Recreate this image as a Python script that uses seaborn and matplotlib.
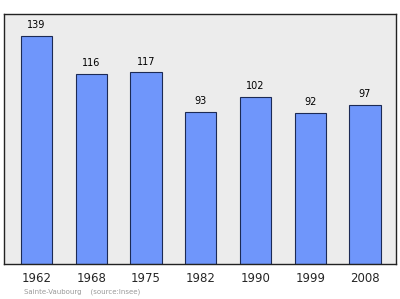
import matplotlib
matplotlib.use("Agg")
import matplotlib.pyplot as plt
import seaborn as sns
import pandas as pd

years = ["1962", "1968", "1975", "1982", "1990", "1999", "2008"]
population = [139, 116, 117, 93, 102, 92, 97]

df = pd.DataFrame({"year": years, "pop": population})

sns.set_style("white")
plt.rcParams['font.family'] = ['DejaVu Sans']

fig = plt.figure(figsize=(4.0, 2.99), dpi=100)
ax = fig.add_axes([0.01, 0.117, 0.98, 0.836])
ax.set_facecolor("#ececec")

sns.barplot(data=df, x="year", y="pop", ax=ax, color="#6f96fb",
            width=0.57, edgecolor="#1c2a55", linewidth=0.8, saturation=1)

for i, v in enumerate(population):
    ax.text(i, v + 3.5, str(v), ha="center", va="bottom", fontsize=7, color="black")

ax.set_xlim(-0.594, 6.566)
ax.set_ylim(0, 152.5)
ax.set_yticks([])
ax.set_xlabel("")
ax.set_ylabel("")
ax.tick_params(axis="x", length=0, labelsize=8.5, pad=6)
for s in ax.spines.values():
    s.set_color("#222222")
    s.set_linewidth(1.0)

fig.text(0.06, 0.02, "Sainte-Vaubourg    (source:Insee)", fontsize=5, color="#999999")

fig.savefig("out.png", dpi=100)
